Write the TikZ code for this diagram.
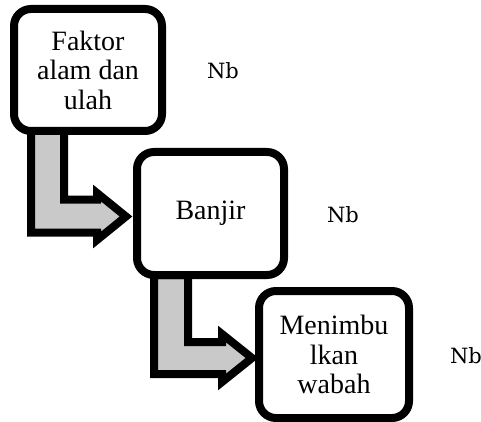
\documentclass[tikz,border=0pt]{standalone}
\usepackage{fontspec}
\setmainfont{Liberation Serif}
\newfontfamily\nbfont{DejaVu Serif}
\usetikzlibrary{calc}
\pgfdeclarelayer{background}
\pgfsetlayers{background,main}

\tikzset{
  stepbox/.style={draw=black, fill=white, line width=8pt, rounded corners=17pt,
    inner sep=0pt, outer sep=0pt, align=center,
    font=\fontsize{28}{29.5}\selectfont},
  blockarrow/.style={draw=black, fill=black!21, line width=8pt, line join=miter},
  note/.style={font=\nbfont\fontsize{21}{23}\selectfont, anchor=base, inner sep=0pt}
}

\begin{document}
\begin{tikzpicture}[x=1pt, y=-1pt]
  \useasboundingbox (0,0) rectangle (481,422);

  % process boxes
  \node[stepbox, minimum width=148pt, minimum height=122pt] (b1) at (88,70)
    {Faktor\\alam dan\\ulah};
  \node[stepbox, minimum width=147pt, minimum height=123pt] (b2) at (210.5,213.5)
    {Banjir};
  \node[stepbox, minimum width=150pt, minimum height=127pt] (b3) at (334,354.5)
    {Menimbu\\lkan\\wabah};

  % side notes
  \node[note] (n1) at (223,79) {Nb};
  \node[note] (n2) at (343,222) {Nb};
  \node[note] (n3) at (466,363) {Nb};

  % bent block arrows, tucked under the boxes
  \begin{pgfonlayer}{background}
    \coordinate (t1) at ($(b2.west)+(-11,3)$);
    \draw[blockarrow] ($(b1.south west)+(17,0)$) -- (31,232.5) -- (97,232.5)
      -- (97,240) -- (t1) -- (97,193) -- (97,199.5) -- (64,199.5)
      -- ($(b1.south west)+(50,0)$) -- cycle;
    \coordinate (t2) at ($(b3.west)+(-7,3.5)$);
    \draw[blockarrow] ($(b2.south west)+(17,0)$) -- (154,374) -- (222,374)
      -- (222,382) -- (t2) -- (222,334) -- (222,342) -- (188,342)
      -- ($(b2.south west)+(51,0)$) -- cycle;
  \end{pgfonlayer}
\end{tikzpicture}
\end{document}
